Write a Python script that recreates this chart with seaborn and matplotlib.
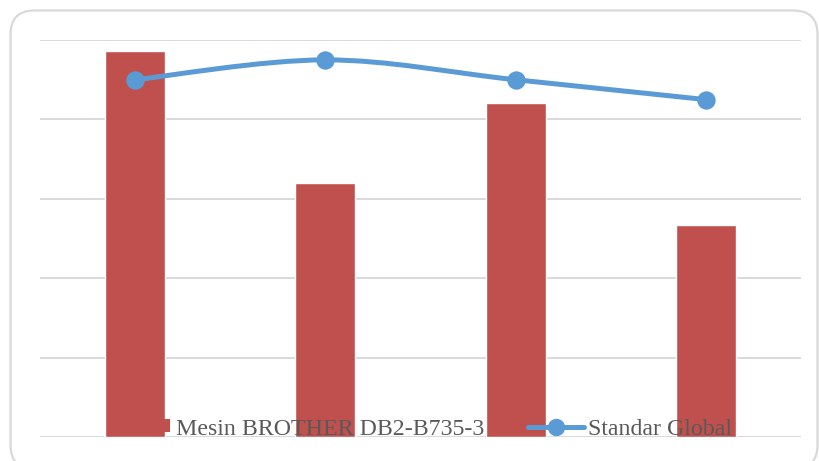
import matplotlib
matplotlib.use("Agg")
import matplotlib.pyplot as plt
from matplotlib.path import Path
from matplotlib.patches import PathPatch, FancyBboxPatch, Patch
from matplotlib.lines import Line2D
import seaborn as sns
import pandas as pd
import numpy as np

# Data
categories = ["A", "B", "C", "D"]
mesin_values = [97.3, 64.0, 84.2, 53.5]
standar_values = [90, 95, 90, 85]
series_labels = ["Mesin BROTHER DB2-B735-3", "Standar Global"]

BAR_COLOR = "#C0504D"
LINE_COLOR = "#5B9BD5"
GRID_COLOR = "#D9D9D9"
TEXT_COLOR = "#595959"

sns.set_theme(style="white")
plt.rcParams["font.family"] = ["Liberation Serif", "DejaVu Serif"]

W, H = 819, 461
fig = plt.figure(figsize=(W / 100, H / 100), dpi=100)
ax = fig.add_axes([40 / W, (H - 437.3) / H, (801 - 40) / W, (437.3 - 40) / H])

df = pd.DataFrame({"cat": categories, "mesin": mesin_values, "standar": standar_values})

sns.barplot(data=df, x="cat", y="mesin", color=BAR_COLOR, width=0.315,
            saturation=1, ax=ax, zorder=2)

# Smoothed line through the points (Catmull-Rom as cubic Bezier segments)
xs = np.arange(len(categories), dtype=float)
ys = np.asarray(standar_values, dtype=float)
pts = np.column_stack([xs, ys])
ext = np.vstack([pts[0], pts, pts[-1]])
verts = [tuple(pts[0])]
codes = [Path.MOVETO]
for i in range(len(pts) - 1):
    p0, p1, p2, p3 = ext[i], ext[i + 1], ext[i + 2], ext[i + 3]
    c1 = p1 + (p2 - p0) / 6.0
    c2 = p2 - (p3 - p1) / 6.0
    verts += [tuple(c1), tuple(c2), tuple(p2)]
    codes += [Path.CURVE4] * 3
ax.add_patch(PathPatch(Path(verts, codes), facecolor="none", edgecolor=LINE_COLOR,
                       lw=3.6, capstyle="round", zorder=3))
sns.scatterplot(x=xs, y=ys, color=LINE_COLOR, s=175, edgecolor=LINE_COLOR,
                linewidth=0, ax=ax, zorder=4)

ax.set_ylim(0, 100)
ax.set_xlim(-0.5, 3.5)
ax.set_yticks(np.arange(0, 101, 20))
ax.yaxis.grid(True, color=GRID_COLOR, lw=1.4, zorder=0)
ax.set_axisbelow(True)
ax.set_xticks([])
ax.set_yticklabels([])
ax.tick_params(left=False, bottom=False)
ax.set_xlabel("")
ax.set_ylabel("")
for s in ax.spines.values():
    s.set_visible(False)

# Legend: two entries placed side by side along the bottom of the plot
FS = 17.2
em = FS * 100 / 72.0  # font size in pixels
leg_y = (H - 429) / H
leg1 = ax.legend([Patch(facecolor=BAR_COLOR, edgecolor="none")], [series_labels[0]],
                 loc="center left", bbox_to_anchor=(163 / W, leg_y),
                 bbox_transform=fig.transFigure, frameon=False, fontsize=FS,
                 handlelength=7 / em, handleheight=11 / em, handletextpad=6 / em,
                 borderpad=0, borderaxespad=0, labelcolor=TEXT_COLOR)
leg1.set_zorder(5)
ax.add_artist(leg1)
leg2 = ax.legend([Line2D([0], [0], color=LINE_COLOR, lw=3.6, marker="o", markersize=11.5)],
                 [series_labels[1]],
                 loc="center left", bbox_to_anchor=(528 / W, leg_y),
                 bbox_transform=fig.transFigure, frameon=False, fontsize=FS,
                 handlelength=56 / em, handletextpad=4 / em,
                 borderpad=0, borderaxespad=0, labelcolor=TEXT_COLOR)
leg2.set_zorder(5)

# Rounded chart border
border = FancyBboxPatch((10.5, -8), 807, H - 10.5 + 8,
                        boxstyle="round,pad=0,rounding_size=24",
                        transform=None, facecolor="none", edgecolor=GRID_COLOR,
                        lw=1.6, zorder=10)
fig.patches.append(border)

fig.savefig("out.png", dpi=100)
